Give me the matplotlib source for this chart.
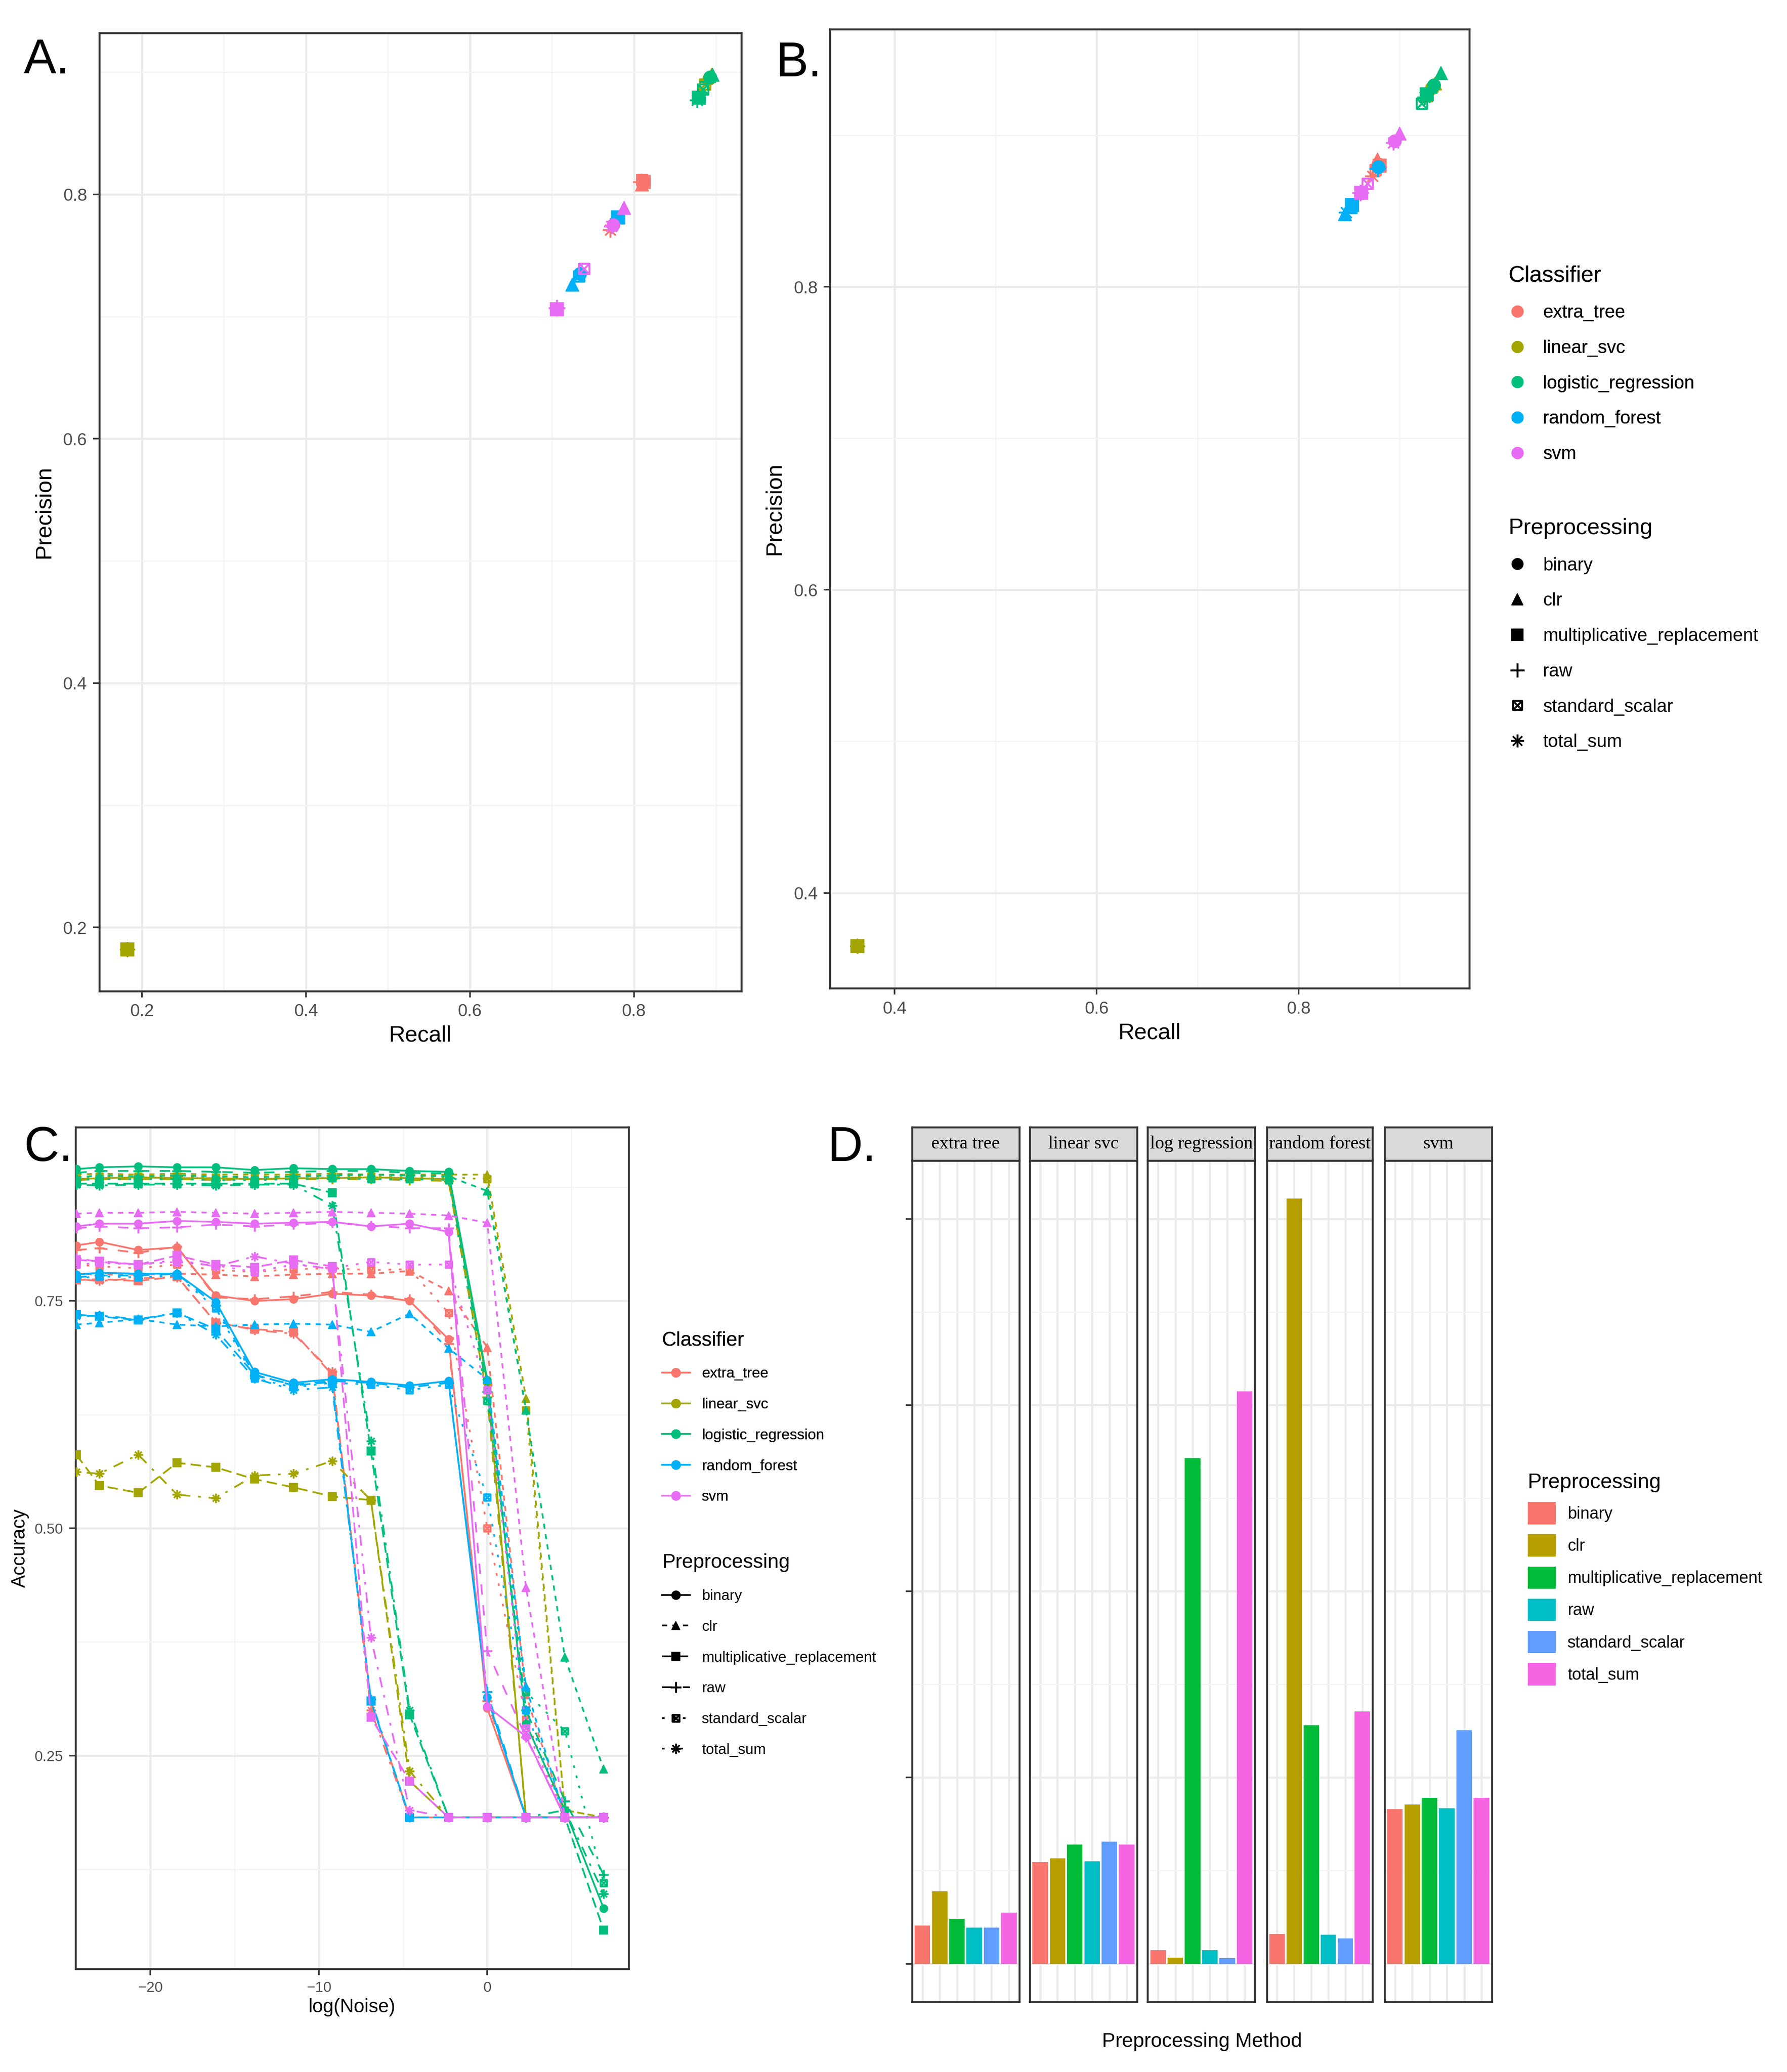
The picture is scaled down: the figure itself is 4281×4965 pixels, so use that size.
import numpy as np
import matplotlib
matplotlib.use("Agg")
import matplotlib.pyplot as plt
from matplotlib.path import Path
from matplotlib.lines import Line2D
from matplotlib.patches import Patch

plt.rcParams['font.family'] = ['Liberation Sans', 'DejaVu Sans']

# ---------- data ----------
classifiers = ["extra_tree", "linear_svc", "logistic_regression", "random_forest", "svm"]
preprocessing = ["binary", "clr", "multiplicative_replacement", "raw",
                 "standard_scalar", "total_sum"]
clf_colors = ["#F8766D", "#A3A500", "#00BF7D", "#00B0F6", "#E76BF3"]
pre_colors = ["#F8766D", "#B79F00", "#00BA38", "#00BFC4", "#619CFF", "#F564E3"]

# Panel A: recall / precision, rows = classifier, columns = preprocessing
recall_a = [
    [0.811, 0.810, 0.812, 0.809, 0.810, 0.771],
    [0.892, 0.895, 0.182, 0.890, 0.887, 0.182],
    [0.893, 0.896, 0.879, 0.890, 0.884, 0.877],
    [0.734, 0.725, 0.781, 0.736, 0.733, 0.780],
    [0.775, 0.788, 0.706, 0.706, 0.739, 0.773],
]
precision_a = [
    [0.811, 0.808, 0.810, 0.810, 0.812, 0.771],
    [0.895, 0.898, 0.182, 0.893, 0.890, 0.182],
    [0.896, 0.898, 0.879, 0.892, 0.886, 0.877],
    [0.735, 0.726, 0.781, 0.736, 0.733, 0.780],
    [0.775, 0.789, 0.706, 0.707, 0.739, 0.774],
]

# Panel B
recall_b = [
    [0.879, 0.878, 0.880, 0.879, 0.876, 0.873],
    [0.932, 0.935, 0.363, 0.930, 0.927, 0.363],
    [0.934, 0.941, 0.927, 0.929, 0.922, 0.925],
    [0.879, 0.846, 0.853, 0.878, 0.852, 0.847],
    [0.895, 0.900, 0.862, 0.861, 0.868, 0.894],
]
precision_b = [
    [0.881, 0.884, 0.880, 0.879, 0.877, 0.873],
    [0.931, 0.934, 0.365, 0.929, 0.926, 0.365],
    [0.933, 0.941, 0.927, 0.928, 0.921, 0.925],
    [0.879, 0.848, 0.854, 0.878, 0.852, 0.849],
    [0.896, 0.901, 0.862, 0.862, 0.868, 0.895],
]

# Panel C: accuracy vs log(noise)
log_noise = [-24.4, -23.03, -20.72, -18.42, -16.12, -13.82, -11.51, -9.21,
             -6.91, -4.61, -2.30, 0.0, 2.30, 4.61, 6.91]

acc_extra_tree = {
    "binary": [0.811, 0.815, 0.806, 0.809, 0.756, 0.750, 0.752, 0.758, 0.756, 0.750, 0.708, 0.302, 0.182, 0.182, 0.182],
    "clr": [0.780, 0.779, 0.779, 0.780, 0.779, 0.777, 0.779, 0.780, 0.780, 0.783, 0.761, 0.699, 0.317, 0.182, 0.182],
    "multiplicative_replacement": [0.773, 0.774, 0.772, 0.777, 0.726, 0.719, 0.716, 0.669, 0.310, 0.182, 0.182, 0.182, 0.182, 0.182, 0.182],
    "raw": [0.806, 0.808, 0.803, 0.810, 0.754, 0.752, 0.755, 0.760, 0.757, 0.752, 0.703, 0.310, 0.182, 0.182, 0.182],
    "standard_scalar": [0.790, 0.788, 0.786, 0.790, 0.784, 0.782, 0.785, 0.786, 0.784, 0.785, 0.737, 0.500, 0.290, 0.182, 0.182],
    "total_sum": [0.774, 0.772, 0.775, 0.776, 0.727, 0.718, 0.714, 0.672, 0.300, 0.182, 0.182, 0.182, 0.182, 0.182, 0.182],
}
acc_linear_svc = {
    "binary": [0.884, 0.885, 0.886, 0.885, 0.885, 0.884, 0.885, 0.885, 0.886, 0.885, 0.884, 0.660, 0.182, 0.182, 0.182],
    "clr": [0.889, 0.890, 0.889, 0.890, 0.889, 0.889, 0.889, 0.890, 0.889, 0.889, 0.889, 0.889, 0.643, 0.190, 0.182],
    "multiplicative_replacement": [0.581, 0.547, 0.539, 0.572, 0.567, 0.554, 0.545, 0.535, 0.531, 0.222, 0.182, 0.182, 0.182, 0.182, 0.182],
    "raw": [0.883, 0.884, 0.884, 0.884, 0.883, 0.884, 0.884, 0.884, 0.884, 0.883, 0.882, 0.644, 0.182, 0.182, 0.182],
    "standard_scalar": [0.886, 0.887, 0.887, 0.887, 0.886, 0.887, 0.887, 0.887, 0.887, 0.886, 0.886, 0.884, 0.630, 0.190, 0.182],
    "total_sum": [0.562, 0.560, 0.581, 0.537, 0.533, 0.558, 0.560, 0.574, 0.531, 0.233, 0.182, 0.182, 0.182, 0.182, 0.182],
}
acc_logistic_regression = {
    "binary": [0.895, 0.897, 0.898, 0.897, 0.897, 0.894, 0.896, 0.895, 0.895, 0.893, 0.892, 0.663, 0.285, 0.190, 0.082],
    "clr": [0.886, 0.888, 0.887, 0.888, 0.887, 0.886, 0.887, 0.888, 0.889, 0.888, 0.887, 0.871, 0.630, 0.358, 0.235],
    "multiplicative_replacement": [0.879, 0.879, 0.879, 0.879, 0.879, 0.879, 0.879, 0.869, 0.585, 0.295, 0.182, 0.182, 0.182, 0.182, 0.058],
    "raw": [0.891, 0.893, 0.893, 0.893, 0.892, 0.891, 0.892, 0.893, 0.893, 0.891, 0.890, 0.650, 0.300, 0.200, 0.119],
    "standard_scalar": [0.883, 0.884, 0.884, 0.884, 0.883, 0.883, 0.884, 0.885, 0.884, 0.884, 0.883, 0.640, 0.320, 0.277, 0.110],
    "total_sum": [0.878, 0.877, 0.878, 0.878, 0.877, 0.878, 0.878, 0.855, 0.596, 0.300, 0.182, 0.182, 0.182, 0.190, 0.098],
}
acc_random_forest = {
    "binary": [0.779, 0.781, 0.780, 0.780, 0.749, 0.672, 0.660, 0.664, 0.661, 0.657, 0.662, 0.314, 0.182, 0.182, 0.182],
    "clr": [0.724, 0.726, 0.730, 0.724, 0.722, 0.724, 0.725, 0.724, 0.716, 0.736, 0.698, 0.664, 0.326, 0.182, 0.182],
    "multiplicative_replacement": [0.735, 0.733, 0.729, 0.737, 0.719, 0.669, 0.657, 0.661, 0.310, 0.182, 0.182, 0.182, 0.182, 0.182, 0.182],
    "raw": [0.776, 0.778, 0.778, 0.780, 0.745, 0.668, 0.658, 0.662, 0.660, 0.655, 0.660, 0.320, 0.182, 0.182, 0.182],
    "standard_scalar": [0.775, 0.777, 0.776, 0.778, 0.742, 0.665, 0.655, 0.660, 0.658, 0.652, 0.658, 0.534, 0.300, 0.182, 0.182],
    "total_sum": [0.733, 0.734, 0.730, 0.737, 0.713, 0.665, 0.652, 0.655, 0.312, 0.182, 0.182, 0.182, 0.182, 0.182, 0.182],
}
acc_svm = {
    "binary": [0.832, 0.835, 0.835, 0.838, 0.837, 0.835, 0.836, 0.837, 0.832, 0.835, 0.826, 0.304, 0.271, 0.182, 0.182],
    "clr": [0.846, 0.847, 0.847, 0.848, 0.847, 0.846, 0.847, 0.848, 0.847, 0.846, 0.844, 0.836, 0.435, 0.182, 0.182],
    "multiplicative_replacement": [0.795, 0.794, 0.790, 0.800, 0.790, 0.787, 0.795, 0.788, 0.292, 0.222, 0.182, 0.182, 0.182, 0.182, 0.182],
    "raw": [0.830, 0.832, 0.830, 0.831, 0.834, 0.832, 0.834, 0.836, 0.833, 0.830, 0.830, 0.365, 0.270, 0.182, 0.182],
    "standard_scalar": [0.790, 0.792, 0.790, 0.793, 0.789, 0.782, 0.790, 0.786, 0.793, 0.790, 0.790, 0.652, 0.280, 0.182, 0.182],
    "total_sum": [0.797, 0.793, 0.790, 0.795, 0.788, 0.799, 0.791, 0.785, 0.380, 0.190, 0.182, 0.182, 0.182, 0.182, 0.182],
}
acc_all = [acc_extra_tree, acc_linear_svc, acc_logistic_regression, acc_random_forest, acc_svm]

# Panel D: bar heights per facet (no axis scale shown)
facet_titles = ["extra tree", "linear svc", "log regression", "random forest", "svm"]
bars_extra_tree = [0.41, 0.78, 0.48, 0.39, 0.39, 0.55]
bars_linear_svc = [1.09, 1.13, 1.28, 1.10, 1.31, 1.28]
bars_log_regression = [0.145, 0.066, 5.43, 0.145, 0.06, 6.15]
bars_random_forest = [0.32, 8.22, 2.56, 0.31, 0.27, 2.71]
bars_svm = [1.66, 1.71, 1.78, 1.67, 2.51, 1.78]
bars_all = [bars_extra_tree, bars_linear_svc, bars_log_regression, bars_random_forest, bars_svm]

# ---------- styles ----------
boxed_x = Path([(-1, -1), (1, -1), (1, 1), (-1, 1), (-1, -1),
                (-1, -1), (1, 1), (-1, 1), (1, -1)],
               [Path.MOVETO, Path.LINETO, Path.LINETO, Path.LINETO, Path.CLOSEPOLY,
                Path.MOVETO, Path.LINETO, Path.MOVETO, Path.LINETO])
shapes = ["o", "^", "s", "+", boxed_x, (8, 2, 0)]
filled = [True, True, True, False, False, False]
size_scale = [1.0, 1.0, 1.0, 1.25, 0.8, 1.15]
dashes = ["-", (0, (3, 3)), (0, (6, 3)), (0, (6, 6)), (0, (1.5, 4.5)), (0, (1.5, 4.5, 6, 4.5))]

W, H = 1350.0, 1566.0
GRID_MAJ = "#EBEBEB"
GRID_MIN = "#F4F4F4"
BORDER = "#333333"
TICKC = "#4D4D4D"


def rect(l, t, r, b):
    return [l / W, 1 - b / H, (r - l) / W, (b - t) / H]


def style_axes(ax, tick_size):
    ax.grid(which="major", color=GRID_MAJ, lw=1.2, zorder=0)
    ax.grid(which="minor", color=GRID_MIN, lw=0.7, zorder=0)
    ax.set_axisbelow(True)
    for s in ax.spines.values():
        s.set_color(BORDER)
        s.set_linewidth(1.1)
    ax.tick_params(which="major", length=3.5, width=0.9, color=BORDER,
                   labelsize=tick_size, labelcolor=TICKC)
    ax.tick_params(which="minor", length=0)


def marker_kw(j, color, ms):
    if filled[j]:
        return dict(marker=shapes[j], ms=ms, mfc=color, mec=color, mew=0.4)
    return dict(marker=shapes[j], ms=ms * size_scale[j], mfc="none",
                mec=color, mew=0.9 if j == 5 else 1.1)


fig = plt.figure(figsize=(14.27, 16.55), dpi=300)

# ---------- Panels A and B ----------
panels = [
    (rect(75, 25, 560, 749), recall_a, precision_a, (0.148, 0.931), (0.148, 0.932),
     [0.2, 0.4, 0.6, 0.8], [0.3, 0.5, 0.7, 0.9], [0.2, 0.4, 0.6, 0.8], [0.3, 0.5, 0.7, 0.9]),
    (rect(627, 22, 1110, 747), recall_b, precision_b, (0.336, 0.969), (0.337, 0.970),
     [0.4, 0.6, 0.8], [0.5, 0.7, 0.9], [0.4, 0.6, 0.8], [0.5, 0.7, 0.9]),
]
for pos, rec, prec, xl, yl, xt, xm, yt, ym in panels:
    ax = fig.add_axes(pos)
    for i, c in enumerate(clf_colors):
        for j in range(len(preprocessing)):
            ax.plot(rec[i][j], prec[i][j], ls="none", **marker_kw(j, c, 7.5), zorder=3)
    ax.set_xlim(*xl)
    ax.set_ylim(*yl)
    ax.set_xticks(xt)
    ax.set_xticks(xm, minor=True)
    ax.set_yticks(yt)
    ax.set_yticks(ym, minor=True)
    style_axes(ax, 10)
    ax.set_xlabel("Recall", fontsize=13, labelpad=3)
    ax.set_ylabel("Precision", fontsize=13, labelpad=5)

h_clf = [Line2D([], [], ls="none", marker="o", ms=6, color=c) for c in clf_colors]
h_pre = [Line2D([], [], ls="none", **marker_kw(j, "black", 6.5)) for j in range(6)]
leg = fig.legend(h_clf, classifiers, loc="upper left", bbox_to_anchor=(1127 / W, 1 - 188 / H),
                 frameon=False, title="Classifier", title_fontsize=13, fontsize=10.5,
                 labelspacing=1.0, handlelength=1.0, handletextpad=0.9, alignment="left")
fig.add_artist(leg)
fig.legend(h_pre, preprocessing, loc="upper left", bbox_to_anchor=(1127 / W, 1 - 379 / H),
           frameon=False, title="Preprocessing", title_fontsize=13, fontsize=10.5,
           labelspacing=1.0, handlelength=1.0, handletextpad=0.9, alignment="left")

# ---------- Panel C ----------
axc = fig.add_axes(rect(57, 852, 475, 1488))
for i, c in enumerate(clf_colors):
    for j, p in enumerate(preprocessing):
        axc.plot(log_noise, acc_all[i][p], color=c, lw=1.0, ls=dashes[j],
                 **marker_kw(j, c, 4.6), zorder=3)
axc.set_xlim(-24.45, 8.4)
axc.set_ylim(0.0155, 0.941)
axc.set_xticks([-20, -10, 0])
axc.set_xticks([-15, -5, 5], minor=True)
axc.set_yticks([0.25, 0.5, 0.75], ["0.25", "0.50", "0.75"])
axc.set_yticks([0.125, 0.375, 0.625, 0.875], minor=True)
style_axes(axc, 8.5)
axc.set_xlabel("log(Noise)", fontsize=11, labelpad=2)
axc.set_ylabel("Accuracy", fontsize=11, labelpad=3)

hc_clf = [Line2D([], [], color=c, lw=1.0, marker="o", ms=4.5) for c in clf_colors]
hc_pre = [Line2D([], [], color="black", lw=1.0, ls=dashes[j], **marker_kw(j, "black", 5))
          for j in range(6)]
leg = fig.legend(hc_clf, classifiers, loc="upper left", bbox_to_anchor=(490 / W, 1 - 996 / H),
                 frameon=False, title="Classifier", title_fontsize=11.5, fontsize=8.5,
                 labelspacing=1.15, handlelength=1.9, handletextpad=0.8, alignment="left")
fig.add_artist(leg)
fig.legend(hc_pre, preprocessing, loc="upper left", bbox_to_anchor=(490 / W, 1 - 1164 / H),
           frameon=False, title="Preprocessing", title_fontsize=11.5, fontsize=8.5,
           labelspacing=1.15, handlelength=1.9, handletextpad=0.8, alignment="left")

# ---------- Panel D ----------
facet_x = [(689, 770), (778, 859), (867, 948), (957, 1037), (1046, 1127)]
xcat = np.arange(1, 7)
for k, (l, r) in enumerate(facet_x):
    ax = fig.add_axes(rect(l, 877, r, 1513))
    ax.bar(xcat, bars_all[k], width=0.9, color=pre_colors, zorder=2)
    ax.set_xlim(0.4, 6.6)
    ax.set_ylim(-0.41, 8.63)
    ax.set_xticks(xcat)
    ax.set_xticklabels([])
    ax.set_yticks([0, 2, 4, 6, 8])
    ax.set_yticks([1, 3, 5, 7], minor=True)
    ax.set_yticklabels([])
    style_axes(ax, 8)
    ax.tick_params(axis="x", which="major", length=0)
    if k > 0:
        ax.tick_params(axis="y", which="major", length=0)
    sax = fig.add_axes(rect(l, 852, r, 877))
    sax.set_xticks([])
    sax.set_yticks([])
    sax.set_facecolor("#D9D9D9")
    for s in sax.spines.values():
        s.set_color(BORDER)
        s.set_linewidth(1.1)
    sax.text(0.5, 0.5, facet_titles[k], transform=sax.transAxes, ha="center", va="center",
             fontsize=10.5, family=["Liberation Serif", "DejaVu Serif"])

fig.text(908 / W, 1 - 1543 / H, "Preprocessing Method", ha="center", va="center", fontsize=11.5)
hd = [Patch(facecolor=c) for c in pre_colors]
fig.legend(hd, preprocessing, loc="upper left", bbox_to_anchor=(1143 / W, 1 - 1102 / H),
           frameon=False, title="Preprocessing", title_fontsize=12, fontsize=9.5,
           labelspacing=0.6, handlelength=1.7, handleheight=1.7, handletextpad=0.7,
           alignment="left")

# ---------- panel letters ----------
for txt, x, y in [("A.", 18, 46), ("B.", 586, 48), ("C.", 18, 868), ("D.", 625, 868)]:
    fig.text(x / W, 1 - y / H, txt, fontsize=28, ha="left", va="center")

fig.savefig("out.png", dpi=300)
